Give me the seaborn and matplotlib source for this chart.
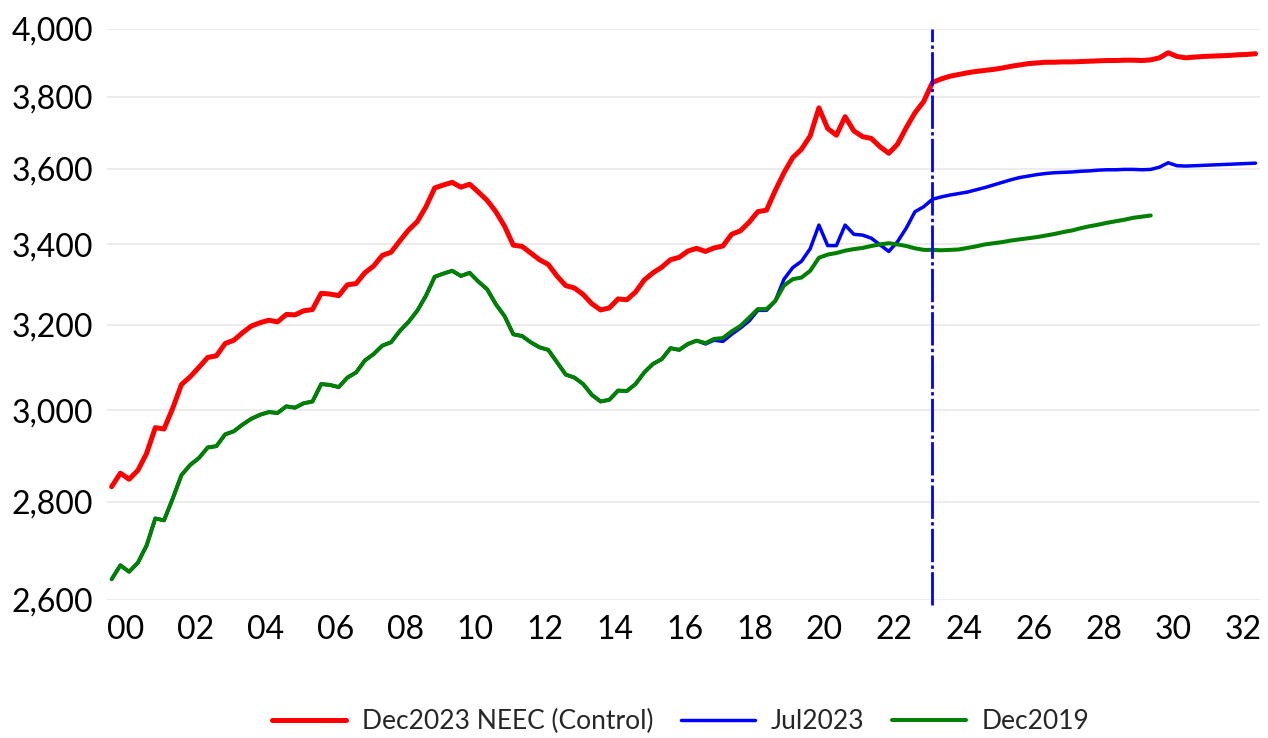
import numpy as np
import pandas as pd
import matplotlib
matplotlib.use('Agg')
import matplotlib.pyplot as plt
import matplotlib.ticker as mticker
import seaborn as sns

# quarterly series, 2000Q1 onwards
red_vals = [2832, 2861, 2848, 2867, 2904, 2961, 2958, 3005, 3059, 3077,
            3099, 3122, 3126, 3155, 3163, 3181, 3197, 3205, 3211, 3207,
            3225, 3224, 3234, 3237, 3277, 3275, 3271, 3298, 3301, 3328,
            3345, 3372, 3380, 3409, 3437, 3459, 3498, 3548, 3556, 3563,
            3550, 3558, 3537, 3515, 3485, 3447, 3398, 3395, 3378, 3361,
            3349, 3320, 3296, 3290, 3274, 3251, 3236, 3241, 3263, 3261,
            3280, 3310, 3328, 3342, 3361, 3367, 3383, 3390, 3382, 3391,
            3396, 3426, 3435, 3457, 3485, 3489, 3541, 3589, 3630, 3653,
            3690, 3769, 3711, 3692, 3744, 3704, 3688, 3683, 3660, 3642,
            3667, 3713, 3755, 3787, 3842, 3852, 3860, 3865, 3870, 3874,
            3877, 3880, 3884, 3889, 3893, 3897, 3899, 3901, 3901, 3902,
            3902, 3903, 3904, 3905, 3906, 3906, 3907, 3907, 3906, 3908,
            3914, 3929, 3918, 3914, 3916, 3918, 3919, 3920, 3921, 3923,
            3924, 3926]

blue_vals = [2641, 2669, 2656, 2674, 2709, 2765, 2761, 2807, 2857, 2879,
             2894, 2917, 2920, 2946, 2953, 2968, 2981, 2990, 2996, 2994,
             3009, 3006, 3016, 3020, 3060, 3058, 3053, 3075, 3087, 3115,
             3130, 3150, 3158, 3185, 3207, 3234, 3271, 3318, 3326, 3333,
             3320, 3328, 3306, 3287, 3250, 3221, 3177, 3173, 3158, 3146,
             3140, 3111, 3082, 3075, 3060, 3035, 3020, 3024, 3045, 3044,
             3060, 3087, 3107, 3118, 3144, 3140, 3154, 3162, 3154, 3163,
             3160, 3177, 3192, 3209, 3235, 3235, 3258, 3312, 3341, 3357,
             3389, 3450, 3397, 3397, 3450, 3426, 3424, 3416, 3399, 3382,
             3407, 3442, 3485, 3498, 3518, 3524, 3529, 3533, 3537, 3543,
             3549, 3556, 3563, 3570, 3576, 3580, 3584, 3587, 3589, 3590,
             3591, 3593, 3594, 3596, 3597, 3597, 3598, 3598, 3597, 3598,
             3604, 3616, 3608, 3607, 3608, 3609, 3610, 3611, 3612, 3613,
             3614, 3615]

green_vals = [2641, 2669, 2656, 2674, 2709, 2765, 2761, 2807, 2857, 2879,
              2894, 2917, 2920, 2946, 2953, 2968, 2981, 2990, 2996, 2994,
              3009, 3006, 3016, 3020, 3060, 3058, 3053, 3075, 3087, 3115,
              3130, 3150, 3158, 3185, 3207, 3234, 3271, 3318, 3326, 3333,
              3320, 3328, 3306, 3287, 3250, 3221, 3177, 3173, 3158, 3146,
              3140, 3111, 3082, 3075, 3060, 3035, 3020, 3024, 3045, 3044,
              3060, 3087, 3107, 3118, 3144, 3140, 3154, 3162, 3156, 3166,
              3168, 3184, 3197, 3217, 3238, 3238, 3258, 3296, 3312, 3316,
              3333, 3366, 3374, 3378, 3384, 3388, 3391, 3396, 3400, 3403,
              3400, 3396, 3390, 3386, 3386, 3385, 3386, 3387, 3391, 3395,
              3400, 3403, 3406, 3410, 3413, 3416, 3419, 3423, 3427, 3432,
              3436, 3442, 3447, 3451, 3456, 3460, 3464, 3469, 3472, 3475]

series_names = ['Dec2023 NEEC (Control)', 'Jul2023', 'Dec2019']
series_colors = ['#FF0000', '#0000FF', '#008000']
series_widths = [3.6, 2.5, 2.9]
last_history = '2023Q3'

y_ticks = [2600, 2800, 3000, 3200, 3400, 3600, 3800, 4000]
x_tick_years = list(range(2000, 2033, 2))
x_tick_labels = ['%02d' % (y % 100) for y in x_tick_years]

quarters = pd.period_range('2000Q1', '2032Q4', freq='Q')
qx = quarters.year + (quarters.quarter - 0.5) / 4

sns.set_style('white')
plt.rcParams['font.family'] = ['Lato', 'DejaVu Sans']

fig = plt.figure(figsize=(12.68, 7.38), dpi=100)
ax = fig.add_axes([0.0846, 0.187, 0.909, 0.7737])

for name, vals, col, lw in zip(series_names, [red_vals, blue_vals, green_vals],
                               series_colors, series_widths):
    df = pd.DataFrame({'x': qx[:len(vals)], 'y': vals})
    sns.lineplot(data=df, x='x', y='y', ax=ax, color=col, lw=lw, label=name)

# forecast start marker
p = pd.Period(last_history, freq='Q')
ax.axvline(p.year + (p.quarter - 0.5) / 4, ymin=-0.008, ymax=1, clip_on=False,
           color='#0000FF', lw=2, linestyle=(0, (12, 1.2, 1.2, 1.2)), zorder=5)

ax.set_yscale('log')
ax.set_ylim(2600, 4000)
ax.yaxis.set_major_locator(mticker.FixedLocator(y_ticks))
ax.yaxis.set_minor_locator(mticker.NullLocator())
ax.yaxis.set_major_formatter(mticker.FuncFormatter(lambda v, _: f'{v:,.0f}'))

ax.set_xlim(2000, 2033)
ax.set_xticks(x_tick_years)
ax.set_xticklabels(x_tick_labels, ha='left')
ax.set_xticks(range(2004, 2033, 4), minor=True)

ax.grid(False)
ax.grid(axis='y', which='major', color='#E9E9E9', lw=1.2)
ax.grid(axis='x', which='minor', color='#E9E9E9', lw=1.2)
ax.tick_params(axis='both', which='both', length=0, labelsize=23, colors='black')
ax.tick_params(axis='x', pad=11)
ax.tick_params(axis='y', pad=10)
for lbl in ax.get_yticklabels():
    lbl.set_va('center_baseline')
for s in ax.spines.values():
    s.set_visible(False)
ax.set_xlabel('')
ax.set_ylabel('')

handles, labels = ax.get_legend_handles_labels()
ax.get_legend().remove()
fig.legend(handles, labels, loc='center', bbox_to_anchor=(0.537, 0.022),
           ncol=3, frameon=False, fontsize=19, handlelength=2.8,
           handletextpad=0.6, columnspacing=1.05)

fig.savefig('out.png', dpi=100)
